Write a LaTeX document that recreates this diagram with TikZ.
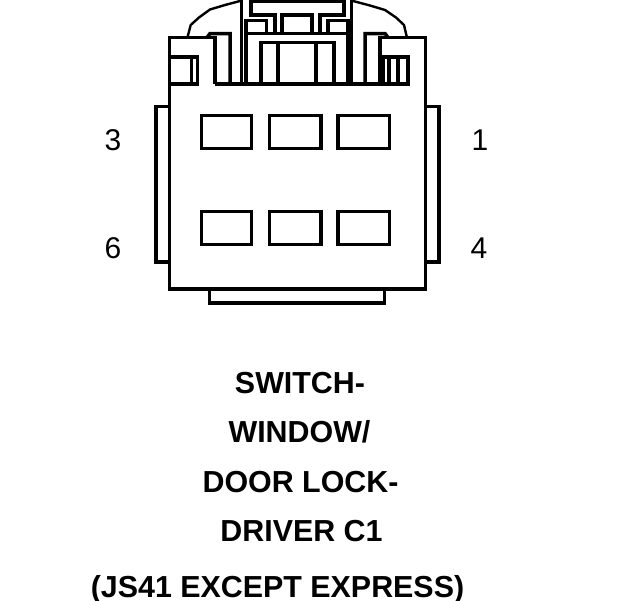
\documentclass[tikz,border=0pt]{standalone}
\usepackage{fontspec}
\setmainfont{Liberation Sans}
\tikzset{
  ln/.style={line width=3.5pt,line cap=butt,line join=miter},
  thin arc/.style={line width=2.4pt,line join=round},
  title/.style={font=\fontsize{30.4}{30.4}\selectfont\bfseries,anchor=base,inner sep=0pt},
  pin/.style={font=\fontsize{30}{30}\selectfont,anchor=base,inner sep=0pt}
}
\begin{document}
\begin{tikzpicture}[x=1pt,y=-1pt]
\useasboundingbox[fill=white] (0,0) rectangle (624,600);
% body
\draw[ln] (169.5,84) -- (169.5,289) -- (425.5,289) -- (425.5,84);
\draw[ln] (215,84) -- (215,37.5) -- (169.5,37.5) -- (169.5,84);
\draw[ln] (380,84) -- (380,37.5) -- (425.5,37.5) -- (425.5,84);
\draw[ln] (168,84) -- (197.5,84);
\draw[ln] (215,84) -- (408,84);
% side and bottom tabs
\draw[ln] (169.5,106.5) -- (156,106.5) -- (156,262) -- (169.5,262);
\draw[ln] (425.5,106.5) -- (439,106.5) -- (439,262) -- (425.5,262);
\draw[ln] (209.5,289) -- (209.5,303) -- (384.5,303) -- (384.5,289);
% slots
\foreach \y/\b in {115.5/148.5,211.5/244.5}{
  \draw[ln] (201.5,\y) rectangle (251.5,\b);
  \draw[ln] (269.5,\y) rectangle (321,\b);
  \draw[ln] (338,\y) rectangle (389.5,\b);
}
% left latch window
\draw[ln] (169.5,57) -- (197.5,57) -- (197.5,85.5);
\draw[ln] (191.5,57) -- (191.5,84);
% right latch window
\draw[ln] (380,57) -- (408,57) -- (408,85.5);
\draw[ln] (383.5,57) -- (383.5,84);
\draw[ln] (389,57) -- (389,84);
\draw[ln] (398,57) -- (398,84);
% shoulders
\draw[ln] (207,37.5) -- (210,33.5) -- (230,33.5) -- (230,84);
\draw[ln] (365,84) -- (365,33.5) -- (385,33.5) -- (388,37.5);
% centre uprights
\draw[ln] (241.5,0) -- (241.5,84);
\draw[ln] (351.5,0) -- (351.5,84);
\draw[ln] (246,84) -- (246,20.5) -- (266.5,20.5) -- (266.5,33.5);
\draw[ln] (348,84) -- (348,20.5) -- (328,20.5) -- (328,33.5);
\draw[ln] (246,33.5) -- (348,33.5);
% T piece
\draw[ln] (251,0) -- (251,15) -- (275,15) -- (275,33.5);
\draw[ln] (344,0) -- (344,15) -- (320,15) -- (320,33.5);
\draw[ln] (251,1.5) -- (344,1.5);
\draw[ln] (282,33.5) -- (282,15) -- (312,15) -- (312,33.5);
% inner box
\draw[ln] (261,84) -- (261,42.5) -- (334,42.5) -- (334,84);
\draw[ln] (278,42.5) -- (278,84);
\draw[ln] (316,42.5) -- (316,84);
% outer arcs
\draw[thin arc] (187.7,36.5) -- (190.7,25) -- (199,17.5) -- (210,9.5) -- (225,5) -- (240,1);
\draw[thin arc] (406.7,36.5) -- (404,25) -- (396,17.5) -- (385,10) -- (370,5.5) -- (353,1);
% pin numbers
\node[pin] (p3) at (113,150.5) {3};
\node[pin] (p1) at (480,150.5) {1};
\node[pin] (p6) at (113,258) {6};
\node[pin] (p4) at (479,258) {4};
% title
\node[title] (t1) at (300,393) {SWITCH-};
\node[title] (t2) at (299.5,442.5) {WINDOW/};
\node[title] (t3) at (300.5,492) {DOOR LOCK-};
\node[title] (t4) at (301.5,541.5) {DRIVER C1};
\node[title] (t5) at (277.5,597) {(JS41 EXCEPT EXPRESS)};
\end{tikzpicture}
\end{document}
